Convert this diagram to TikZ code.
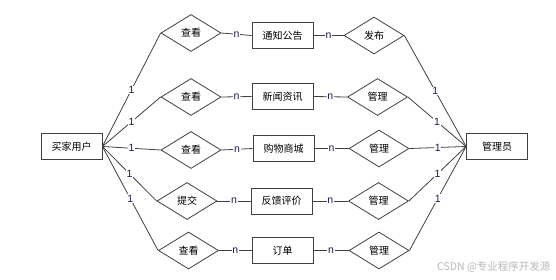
\documentclass[tikz,border=0pt]{standalone}
\usepackage{fontspec}
\setmainfont{Liberation Sans}
\newfontfamily\cjk{Noto Sans CJK SC}
\usetikzlibrary{shapes.geometric}
\definecolor{ln}{HTML}{404040}
\definecolor{lab}{HTML}{1A1A50}
\tikzset{
  ent/.style={draw=ln, line width=0.8pt, rectangle, minimum width=61pt, minimum height=26pt, inner sep=0pt, font=\cjk\fontsize{10}{10}\selectfont},
  rel/.style={draw=ln, line width=0.8pt, diamond, minimum width=60pt, minimum height=37pt, inner sep=0pt, font=\cjk\fontsize{10}{10}\selectfont},
  conn/.style={draw=ln, line width=0.8pt},
  card/.style={fill=white, inner sep=0.6pt, text=lab, font=\fontsize{10.5}{10}\selectfont}
}
\begin{document}
\begin{tikzpicture}[x=1pt,y=-1pt]
\useasboundingbox (0,0) rectangle (556,279);
\node[ent] (bu) at (71.5,146.5) {买家用户};
\node[ent] (ad) at (497,146.5) {管理员};

\node[rel] (r1) at (191,33) {查看};
\node[rel] (r2) at (191,97) {查看};
\node[rel] (r3) at (191,150) {查看};
\node[rel] (r4) at (187,201) {提交};
\node[rel] (r5) at (188.5,250.5) {查看};

\node[ent] (e1) at (282.5,35.5) {通知公告};
\node[ent] (e2) at (282.5,96.5) {新闻资讯};
\node[ent] (e3) at (283.5,148.5) {购物商城};
\node[ent] (e4) at (281.5,201) {反馈评价};
\node[ent] (e5) at (282.5,250.5) {订单};

\node[rel] (m1) at (374,35.5) {发布};
\node[rel] (m2) at (377.5,97) {管理};
\node[rel] (m3) at (379,148.5) {管理};
\node[rel] (m4) at (378.5,201) {管理};
\node[rel] (m5) at (379,250.5) {管理};

\foreach \i in {1,...,5}{
  \draw[conn] (bu.east) -- node[card]{1} (r\i.west);
  \draw[conn] (r\i.east) -- node[card]{n} (e\i.west);
  \draw[conn] (e\i.east) -- node[card]{n} (m\i.west);
  \draw[conn] (m\i.east) -- node[card]{1} (ad.west);
}
\node[text=black!28, font=\cjk\fontsize{10.5}{11}\selectfont, anchor=west, inner sep=0pt] (wm) at (437,267) {CSDN @专业程序开发源};
\end{tikzpicture}
\end{document}
